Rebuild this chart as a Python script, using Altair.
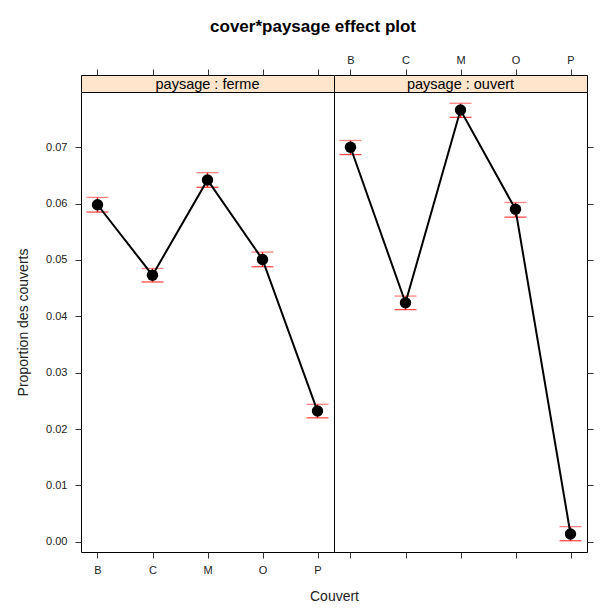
import altair as alt
import pandas as pd

couvert = ["B", "C", "M", "O", "P"]
strip_labels = ["paysage : ferme", "paysage : ouvert"]

prop_ferme = [0.0598, 0.0473, 0.0642, 0.0501, 0.0232]
low_ferme = [0.0585, 0.0461, 0.0629, 0.0488, 0.0220]
high_ferme = [0.0611, 0.0485, 0.0655, 0.0514, 0.0244]

prop_ouvert = [0.0700, 0.0424, 0.0766, 0.0590, 0.0014]
low_ouvert = [0.0687, 0.0412, 0.0753, 0.0576, 0.0002]
high_ouvert = [0.0712, 0.0436, 0.0778, 0.0602, 0.0027]

y_ticks = [0.00, 0.01, 0.02, 0.03, 0.04, 0.05, 0.06, 0.07]
y_domain = [-0.0018, 0.0798]

PW, PH, SH = 253, 460, 17
FONT = "Liberation Sans"
STRIP_BG = "#ffe5cc"

xscale = alt.Scale(type="point", domain=couvert, padding=0.3)
yscale = alt.Scale(domain=y_domain, nice=False, zero=False)


def make_panel(prop, low, high, left):
    df = pd.DataFrame({"couvert": couvert, "prop": prop, "low": low, "high": high})
    xaxis_kw = dict(orient="bottom", labels=left, tickSize=6, domain=False, grid=False,
                    labelAngle=0, labelFontSize=11, labelPadding=6, tickColor="#333")
    if left:
        xaxis_kw.update(titleX=PW, titleAlign="center", titleFontSize=14, titlePadding=14)
    xaxis = alt.Axis(**xaxis_kw)
    yaxis_kw = dict(orient="left" if left else "right", labels=left, values=y_ticks,
                    format=".2f", tickSize=6, domain=False, grid=False, labelFontSize=11,
                    labelPadding=8, tickColor="#333")
    if left:
        yaxis_kw.update(titleFontSize=14, titlePadding=15)
    yaxis = alt.Axis(**yaxis_kw)
    xtitle = "Couvert" if left else None
    ytitle = "Proportion des couverts" if left else None

    X = alt.X("couvert:N", scale=xscale, axis=xaxis, title=xtitle)

    def Y(field):
        return alt.Y(field + ":Q", scale=yscale, axis=yaxis, title=ytitle)

    base = alt.Chart(df)
    rule = base.mark_rule(color="red", strokeWidth=1.3).encode(x=X, y=Y("low"), y2="high:Q")
    cap_lo = base.mark_tick(color="red", size=22, thickness=1.3, orient="horizontal").encode(x=X, y=Y("low"))
    cap_hi = base.mark_tick(color="#ff5050", size=22, thickness=1.3, orient="horizontal").encode(x=X, y=Y("high"))
    line = base.mark_line(color="black", strokeWidth=2).encode(x=X, y=Y("prop"))
    pts = base.mark_circle(color="black", size=130, opacity=1).encode(x=X, y=Y("prop"))
    return alt.layer(rule, cap_lo, cap_hi, line, pts).properties(
        width=PW, height=PH,
        view=alt.ViewBackground(stroke="black", strokeWidth=1, fill="white"),
    )


def make_strip(label, left):
    df = pd.DataFrame({"couvert": couvert})
    ax = alt.Axis(orient="top", labels=not left, tickSize=6, domain=False, grid=False,
                  labelAngle=0, labelFontSize=11, labelPadding=4, tickColor="#333")
    anchor = alt.Chart(df).mark_point(opacity=0).encode(
        x=alt.X("couvert:N", scale=xscale, axis=ax, title=None)
    )
    txt = alt.Chart(pd.DataFrame({"label": [label]})).mark_text(
        font=FONT, fontSize=14.5, color="black", baseline="middle"
    ).encode(text="label:N", x=alt.value(PW / 2), y=alt.value(SH / 2 + 1))
    return alt.layer(anchor, txt).properties(
        width=PW, height=SH,
        view=alt.ViewBackground(fill=STRIP_BG, stroke="black", strokeWidth=1),
    )


chart = alt.concat(
    make_strip(strip_labels[0], True),
    make_strip(strip_labels[1], False),
    make_panel(prop_ferme, low_ferme, high_ferme, True),
    make_panel(prop_ouvert, low_ouvert, high_ouvert, False),
    columns=2, spacing=0, bounds="flush",
).properties(
    title=alt.TitleParams(text="cover*paysage effect plot", font=FONT, fontSize=17,
                          fontWeight="bold", anchor="middle", color="black", dx=8, offset=18),
    padding={"left": 8, "top": 9, "right": 5, "bottom": 5},
    background="white",
).configure_axis(
    labelFont=FONT, titleFont=FONT, labelColor="#222", titleColor="#222",
    titleFontWeight="normal",
).configure_title(font=FONT)

chart.save("out.html", embed_options={"renderer": "svg", "actions": False})
